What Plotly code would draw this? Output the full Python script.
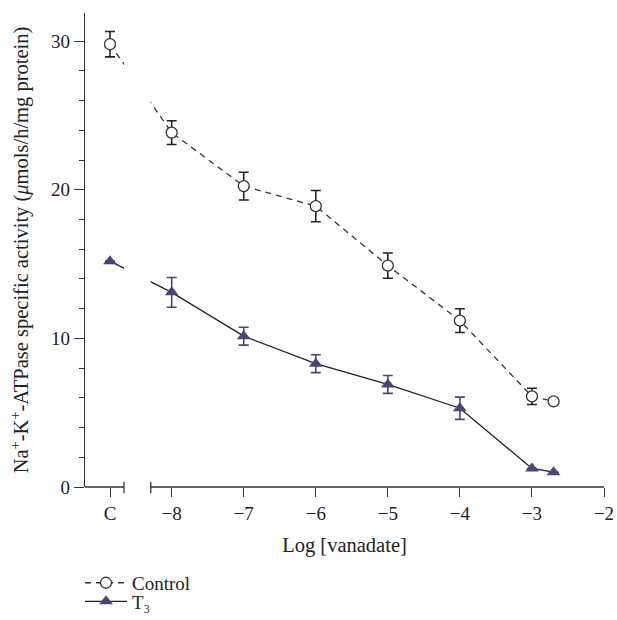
import plotly.graph_objects as go

# ---- data ----
x_labels = ["C", "-8", "-7", "-6", "-5", "-4", "-3", "-2.7"]
log_vanadate = [None, -8, -7, -6, -5, -4, -3, -2.7]   # None -> control position "C"
control_mean = [29.8, 23.85, 20.25, 18.9, 14.9, 11.2, 6.1, 5.76]
control_err = [0.85, 0.8, 0.93, 1.05, 0.85, 0.8, 0.55, 0]
t3_mean = [15.2, 13.1, 10.15, 8.3, 6.9, 5.3, 1.25, 1.0]
t3_err = [0, 1.0, 0.6, 0.6, 0.6, 0.75, 0, 0]
x_ticks = [-8, -7, -6, -5, -4, -3, -2]

# ---- layout constants ----
C_POS = -8.856          # where the "C" column sits on the broken axis
X_MIN, X_MAX = -9.203, -2
BREAK_L, BREAK_R = -8.662, -8.291
AX = "#333333"
T3_COLOR = "#494676"
FONT = "Liberation Serif"

xs = [C_POS if v is None else v for v in log_vanadate]

fig = go.Figure()
fig.add_trace(go.Scatter(
    x=xs, y=control_mean, name="Control", mode="lines+markers", legend="legend",
    line=dict(color=AX, width=1.3, dash="6px,5px"),
    marker=dict(symbol="circle", size=11, color="white", line=dict(color=AX, width=1.3)),
    error_y=dict(type="data", array=control_err, color="#222222", thickness=1.6, width=5),
))
fig.add_trace(go.Scatter(
    x=xs, y=t3_mean, name="T\u2083", mode="lines+markers", legend="legend2",
    line=dict(color="#222222", width=1.3),
    marker=dict(symbol="triangle-up", size=12, color=T3_COLOR, line=dict(width=0)),
    error_y=dict(type="data", array=t3_err, color=T3_COLOR, thickness=1.6, width=5),
))

tickvals = [C_POS] + x_ticks
ticktext = ["C"] + [("\u2212" + str(-v)) if v < 0 else str(v) for v in x_ticks]

shapes = [
    # mask the gap of the broken axis
    dict(type="rect", xref="x", yref="paper", x0=BREAK_L, x1=BREAK_R, y0=-0.003, y1=1.0,
         fillcolor="white", line=dict(width=0), layer="above"),
    # axis segments
    dict(type="line", xref="x", yref="paper", x0=X_MIN, x1=BREAK_L, y0=0, y1=0,
         line=dict(color=AX, width=1.3), layer="above"),
    dict(type="line", xref="x", yref="paper", x0=BREAK_R, x1=X_MAX, y0=0, y1=0,
         line=dict(color=AX, width=1.3), layer="above"),
    # break marks
    dict(type="line", xref="x", yref="paper", x0=BREAK_L, x1=BREAK_L, y0=-0.013, y1=0.011,
         line=dict(color=AX, width=1.3), layer="above"),
    dict(type="line", xref="x", yref="paper", x0=BREAK_R, x1=BREAK_R, y0=-0.013, y1=0.011,
         line=dict(color=AX, width=1.3), layer="above"),
]

legend_common = dict(xanchor="left", yanchor="top",
                     font=dict(family=FONT, size=19), itemwidth=42,
                     bgcolor="rgba(0,0,0,0)")

fig.update_layout(
    width=617, height=620,
    margin=dict(l=85, r=13, t=13, b=133, autoexpand=False),
    paper_bgcolor="white", plot_bgcolor="white",
    font=dict(family=FONT, size=19, color="#222222"),
    showlegend=True,
    legend=dict(x=-0.0096, y=-0.1622, **legend_common),
    legend2=dict(x=-0.0096, y=-0.2015, **legend_common),
    shapes=shapes,
    xaxis=dict(range=[X_MIN, X_MAX], tickvals=tickvals, ticktext=ticktext,
               showline=False, showgrid=False, zeroline=False,
               ticks="outside", ticklen=9, tickwidth=1.3, tickcolor=AX,
               title=dict(text="Log [vanadate]", font=dict(size=20.5), standoff=14)),
    yaxis=dict(range=[0, 31.9], dtick=10, tick0=0,
               showline=True, linecolor=AX, linewidth=1.3,
               showgrid=False, zeroline=False,
               ticks="outside", ticklen=10, tickwidth=1.3, tickcolor=AX,
               minor=dict(dtick=2, tick0=0, ticks="outside", ticklen=5, tickwidth=1.3, tickcolor=AX, showgrid=False),
               title=dict(text="Na<sup>+</sup>-K<sup>+</sup>-ATPase specific activity (<i>\u03bc</i>mols/h/mg protein)",
                          font=dict(size=20.5), standoff=16)),
)

fig.write_html("out.html")
